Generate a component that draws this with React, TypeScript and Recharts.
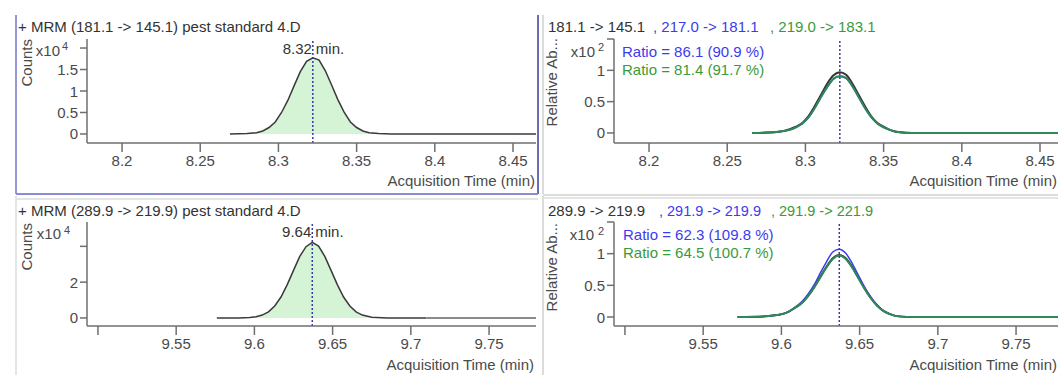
import React from 'react';
import { ComposedChart, LineChart, Area, Line, XAxis, YAxis, ReferenceLine } from 'recharts';

const FONT = '"Liberation Sans", Arial, Helvetica, sans-serif';
const AXIS = '#6f6f6f';
const LABEL = '#4a4a4a';
const TITLE = '#333333';
const BLUE = '#3b3bf0';
const GREEN = '#3a9a3a';
const GREEN_LINE = '#2f8a55';
const DOTTED = '#3a3aa8';

// retention times marked with the dotted line
const retentionTimes = [8.322, 9.637];

// 181.1 -> 145.1, counts x10^4
const quantTimesA = [8.269, 8.28, 8.286, 8.29, 8.294, 8.298, 8.302, 8.306, 8.31, 8.314, 8.318, 8.322, 8.326, 8.33, 8.334, 8.338, 8.342, 8.346, 8.35, 8.354, 8.358, 8.364, 8.372];
const quantCountsA = [0, 0.01, 0.03, 0.07, 0.15, 0.28, 0.5, 0.78, 1.12, 1.45, 1.69, 1.77, 1.72, 1.47, 1.14, 0.8, 0.51, 0.28, 0.15, 0.07, 0.03, 0.01, 0];
const baseTimesA = [8.372, 8.465];
const baseCountsA = [0, 0];

// qualifiers for 181.1 -> 145.1, relative abundance x10^2
const qualTimesA = [8.266, 8.28, 8.286, 8.29, 8.294, 8.298, 8.302, 8.306, 8.31, 8.314, 8.318, 8.322, 8.326, 8.33, 8.334, 8.338, 8.342, 8.346, 8.35, 8.354, 8.358, 8.364, 8.372, 8.4, 8.43, 8.47];
const qualMainA = [0, 0.01, 0.03, 0.06, 0.1, 0.16, 0.27, 0.43, 0.61, 0.79, 0.92, 0.97, 0.93, 0.79, 0.61, 0.43, 0.27, 0.16, 0.1, 0.05, 0.02, 0.005, 0, 0, 0, 0];
const qualBlueA = [0, 0.01, 0.03, 0.05, 0.09, 0.15, 0.25, 0.4, 0.57, 0.73, 0.86, 0.9, 0.87, 0.74, 0.57, 0.4, 0.25, 0.15, 0.09, 0.05, 0.02, 0.005, 0, 0, 0, 0];
const qualGreenA = [0, 0.01, 0.03, 0.05, 0.09, 0.15, 0.25, 0.4, 0.58, 0.74, 0.87, 0.91, 0.88, 0.75, 0.58, 0.4, 0.26, 0.15, 0.09, 0.05, 0.02, 0.005, 0, 0, 0, 0];

// 289.9 -> 219.9, counts x10^4
const quantTimesB = [9.576, 9.59, 9.597, 9.601, 9.605, 9.609, 9.613, 9.617, 9.621, 9.625, 9.629, 9.633, 9.637, 9.641, 9.645, 9.649, 9.653, 9.657, 9.661, 9.665, 9.669, 9.675, 9.685, 9.71];
const quantCountsB = [0, 0, 0.03, 0.07, 0.16, 0.34, 0.67, 1.17, 1.86, 2.66, 3.44, 3.98, 4.22, 4.01, 3.44, 2.66, 1.86, 1.17, 0.67, 0.34, 0.16, 0.04, 0, 0];
const baseTimesB = [9.71, 9.785];
const baseCountsB = [0, 0];

// qualifiers for 289.9 -> 219.9, relative abundance x10^2
const qualTimesB = [9.572, 9.59, 9.597, 9.601, 9.605, 9.609, 9.613, 9.617, 9.621, 9.625, 9.629, 9.633, 9.637, 9.641, 9.645, 9.649, 9.653, 9.657, 9.661, 9.665, 9.669, 9.675, 9.685, 9.71, 9.74, 9.79];
const qualMainB = [0, 0.01, 0.03, 0.05, 0.09, 0.15, 0.22, 0.33, 0.47, 0.64, 0.8, 0.93, 0.98, 0.93, 0.8, 0.63, 0.46, 0.31, 0.19, 0.1, 0.05, 0.01, 0, 0, 0, 0];
const qualBlueB = [0, 0.01, 0.03, 0.05, 0.09, 0.16, 0.24, 0.36, 0.51, 0.7, 0.88, 1.03, 1.07, 1.01, 0.86, 0.67, 0.48, 0.32, 0.19, 0.1, 0.05, 0.01, 0, 0, 0, 0];
const qualGreenB = [0, 0.01, 0.03, 0.05, 0.09, 0.15, 0.22, 0.33, 0.47, 0.63, 0.79, 0.92, 0.97, 0.92, 0.79, 0.62, 0.45, 0.3, 0.18, 0.1, 0.05, 0.01, 0, 0, 0, 0];

const topXTicks = [8.2, 8.25, 8.3, 8.35, 8.4, 8.45];
const bottomXTicks = [9.5, 9.55, 9.6, 9.65, 9.7, 9.75];
const countTicksA = [0, 0.5, 1, 1.5, 2];
const countTicksB = [0, 2, 4];
const relTicks = [0, 0.5, 1, 1.5];

const toPoints = (ts: number[], vs: number[]) => ts.map((t, i) => ({ t, v: vs[i] }));

const xTick = (hidden: number[]) => (p: any) =>
  hidden.includes(p.payload.value) ? (
    <g />
  ) : (
    <text x={p.x} y={p.y + 12} textAnchor="middle" fill={LABEL} fontSize={15} fontFamily={FONT}>
      {p.payload.value}
    </text>
  );

const yTick = (hidden: number[]) => (p: any) =>
  hidden.includes(p.payload.value) ? (
    <g />
  ) : (
    <text x={p.x} y={p.y + 5.5} textAnchor="end" fill={LABEL} fontSize={15} fontFamily={FONT}>
      {p.payload.value}
    </text>
  );

const rtLabel = (rt: number) => (p: any) => {
  const { x, y } = p.viewBox;
  return (
    <g fontSize={15} fontFamily={FONT} fill={TITLE}>
      <text x={x - 1} y={y + 14.5} textAnchor="end">{rt.toFixed(2)}</text>
      <text x={x + 3} y={y + 14.5}>min.</text>
    </g>
  );
};

const axisStyle = { stroke: AXIS, strokeWidth: 1.5 };

function xAxis(domain: number[], ticks: number[], hidden: number[]) {
  return (
    <XAxis
      type="number"
      dataKey="t"
      domain={domain}
      ticks={ticks}
      interval={0}
      allowDataOverflow
      height={30}
      tickSize={9}
      tickMargin={2}
      axisLine={axisStyle}
      tickLine={axisStyle}
      tick={xTick(hidden)}
    />
  );
}

function yAxis(domain: number[], ticks: number[], hidden: number[], width: number) {
  return (
    <YAxis
      type="number"
      domain={domain}
      ticks={ticks}
      interval={0}
      allowDataOverflow
      width={width}
      tickSize={7}
      tickMargin={2}
      axisLine={axisStyle}
      tickLine={axisStyle}
      tick={yTick(hidden)}
    />
  );
}

const rtLine = (rt: number, withLabel: boolean) => (
  <ReferenceLine
    x={rt}
    stroke={DOTTED}
    strokeWidth={1.5}
    strokeDasharray="2 2"
    label={withLabel ? rtLabel(rt) : undefined}
  />
);

export default function App() {
  const quantA = toPoints(quantTimesA, quantCountsA);
  const baseA = toPoints(baseTimesA, baseCountsA);
  const quantB = toPoints(quantTimesB, quantCountsB);
  const baseB = toPoints(baseTimesB, baseCountsB);
  const mainA = toPoints(qualTimesA, qualMainA);
  const blueA = toPoints(qualTimesA, qualBlueA);
  const greenA = toPoints(qualTimesA, qualGreenA);
  const mainB = toPoints(qualTimesB, qualMainB);
  const blueB = toPoints(qualTimesB, qualBlueB);
  const greenB = toPoints(qualTimesB, qualGreenB);

  const topDomain = [8.1776, 8.4647];
  const bottomDomain = [9.493, 9.78];

  return (
    <div style={{ position: 'absolute', left: 0, top: 0, width: 1058, height: 375, overflow: 'hidden', background: '#fff' }}>
      <div style={{ position: 'absolute', left: 0, top: 0 }}>
        <ComposedChart width={540} height={195} margin={{ top: 39, right: 4, bottom: 22, left: 0 }}>
          {xAxis(topDomain, topXTicks, [])}
          {yAxis([-0.21, 2.21], countTicksA, [2], 87)}
          <Area data={quantA} dataKey="v" type="linear" stroke="#3a3a3a" strokeWidth={1.5} fill="#d5f4d5" fillOpacity={1} dot={false} isAnimationActive={false} />
          <Line data={baseA} dataKey="v" type="linear" stroke="#6a6a6a" strokeWidth={2} dot={false} isAnimationActive={false} />
          {rtLine(retentionTimes[0], true)}
        </ComposedChart>
      </div>

      <div style={{ position: 'absolute', left: 540, top: 0 }}>
        <LineChart width={530} height={195} margin={{ top: 39, right: 7, bottom: 22, left: 0 }}>
          {xAxis(topDomain, topXTicks, [])}
          {yAxis([-0.16, 1.5], relTicks, [1.5], 74)}
          <Line data={mainA} dataKey="v" type="monotone" stroke="#333" strokeWidth={2} dot={false} isAnimationActive={false} />
          <Line data={blueA} dataKey="v" type="monotone" stroke={BLUE} strokeWidth={1.5} dot={false} isAnimationActive={false} />
          <Line data={greenA} dataKey="v" type="monotone" stroke={GREEN_LINE} strokeWidth={2} dot={false} isAnimationActive={false} />
          {rtLine(retentionTimes[0], false)}
        </LineChart>
      </div>

      <div style={{ position: 'absolute', left: 0, top: 195 }}>
        <ComposedChart width={540} height={180} margin={{ top: 27, right: 4, bottom: 19, left: 0 }}>
          {xAxis(bottomDomain, bottomXTicks, [9.5])}
          {yAxis([-0.45, 5.36], countTicksB, [4], 87)}
          <Area data={quantB} dataKey="v" type="linear" stroke="#3a3a3a" strokeWidth={1.5} fill="#d5f4d5" fillOpacity={1} dot={false} isAnimationActive={false} />
          <Line data={baseB} dataKey="v" type="linear" stroke="#8a8a8a" strokeWidth={2} dot={false} isAnimationActive={false} />
          {rtLine(retentionTimes[1], true)}
        </ComposedChart>
      </div>

      <div style={{ position: 'absolute', left: 540, top: 195 }}>
        <LineChart width={530} height={180} margin={{ top: 27, right: 7, bottom: 19, left: 0 }}>
          {xAxis(bottomDomain, bottomXTicks, [9.5])}
          {yAxis([-0.142, 1.5], relTicks, [1.5], 74)}
          <Line data={mainB} dataKey="v" type="monotone" stroke="#333" strokeWidth={2} dot={false} isAnimationActive={false} />
          <Line data={blueB} dataKey="v" type="monotone" stroke={BLUE} strokeWidth={1.5} dot={false} isAnimationActive={false} />
          <Line data={greenB} dataKey="v" type="monotone" stroke={GREEN_LINE} strokeWidth={2} dot={false} isAnimationActive={false} />
          {rtLine(retentionTimes[1], false)}
        </LineChart>
      </div>

      <svg width={1058} height={375} style={{ position: 'absolute', left: 0, top: 0, pointerEvents: 'none' }} fontFamily={FONT} fontSize={15}>
        {/* panel frames */}
        <line x1={16} y1={15} x2={16} y2={194} stroke="#7474c4" strokeWidth={1.5} />
        <line x1={538} y1={15} x2={538} y2={194} stroke="#6a6ab8" strokeWidth={2} />
        <line x1={16} y1={194} x2={538} y2={194} stroke="#8c8cd0" strokeWidth={2} />
        <line x1={543} y1={15} x2={543} y2={194} stroke="#dcdcdc" strokeWidth={2} />
        <line x1={543} y1={195} x2={1058} y2={195} stroke="#dcdcdc" strokeWidth={2} />
        <line x1={16} y1={199} x2={538} y2={199} stroke="#dcdcdc" strokeWidth={1.5} />
        <line x1={16} y1={196} x2={16} y2={375} stroke="#dcdcdc" strokeWidth={1.5} />
        <line x1={543} y1={198} x2={1058} y2={198} stroke="#dcdcdc" strokeWidth={1.5} />
        <line x1={543} y1={196} x2={543} y2={375} stroke="#dcdcdc" strokeWidth={2} />

        {/* titles */}
        <text x={18} y={32} fill={TITLE}>+ MRM (181.1 -&gt; 145.1) pest standard 4.D</text>
        <text x={18} y={216} fill={TITLE}>+ MRM (289.9 -&gt; 219.9) pest standard 4.D</text>
        <text x={548} y={32} fill={TITLE}>181.1 -&gt; 145.1</text>
        <text x={653} y={32} fill={BLUE}>, 217.0 -&gt; 181.1</text>
        <text x={770} y={32} fill={GREEN}>, 219.0 -&gt; 183.1</text>
        <text x={548} y={216} fill={TITLE}>289.9 -&gt; 219.9</text>
        <text x={659} y={216} fill={BLUE} fontSize={14.5}>, 291.9 -&gt; 219.9</text>
        <text x={771} y={216} fill={GREEN} fontSize={14.5}>, 291.9 -&gt; 221.9</text>

        {/* ratios */}
        <text x={622} y={57} fill={BLUE}>Ratio = 86.1 (90.9 %)</text>
        <text x={622} y={75} fill={GREEN}>Ratio = 81.4 (91.7 %)</text>
        <text x={623} y={240} fill={BLUE}>Ratio = 62.3 (109.8 %)</text>
        <text x={623} y={258} fill={GREEN}>Ratio = 64.5 (100.7 %)</text>

        {/* axis titles */}
        <text transform="translate(32,39) rotate(-90)" textAnchor="end" fill={LABEL}>Counts</text>
        <text transform="translate(32,223) rotate(-90)" textAnchor="end" fill={LABEL}>Counts</text>
        <text transform="translate(557,38) rotate(-90)" textAnchor="end" fill={LABEL}>Relative Ab...</text>
        <text transform="translate(557,223) rotate(-90)" textAnchor="end" fill={LABEL}>Relative Ab...</text>
        <text x={535} y={186} textAnchor="end" fill={LABEL}>Acquisition Time (min)</text>
        <text x={534} y={370} textAnchor="end" fill={LABEL}>Acquisition Time (min)</text>
        <text x={1057} y={186} textAnchor="end" fill={LABEL}>Acquisition Time (min)</text>
        <text x={1057} y={370} textAnchor="end" fill={LABEL}>Acquisition Time (min)</text>

        {/* exponents */}
        <text x={60} y={56} textAnchor="end" fill={LABEL}>x10</text>
        <text x={62} y={50} fontSize={11} fill={LABEL}>4</text>
        <text x={61} y={239} textAnchor="end" fill={LABEL}>x10</text>
        <text x={64} y={234} fontSize={11} fill={LABEL}>4</text>
        <text x={595} y={57} textAnchor="end" fill={LABEL}>x10</text>
        <text x={598} y={51} fontSize={11} fill={LABEL}>2</text>
        <text x={594} y={240} textAnchor="end" fill={LABEL}>x10</text>
        <text x={598} y={235} fontSize={11} fill={LABEL}>2</text>
      </svg>
    </div>
  );
}
